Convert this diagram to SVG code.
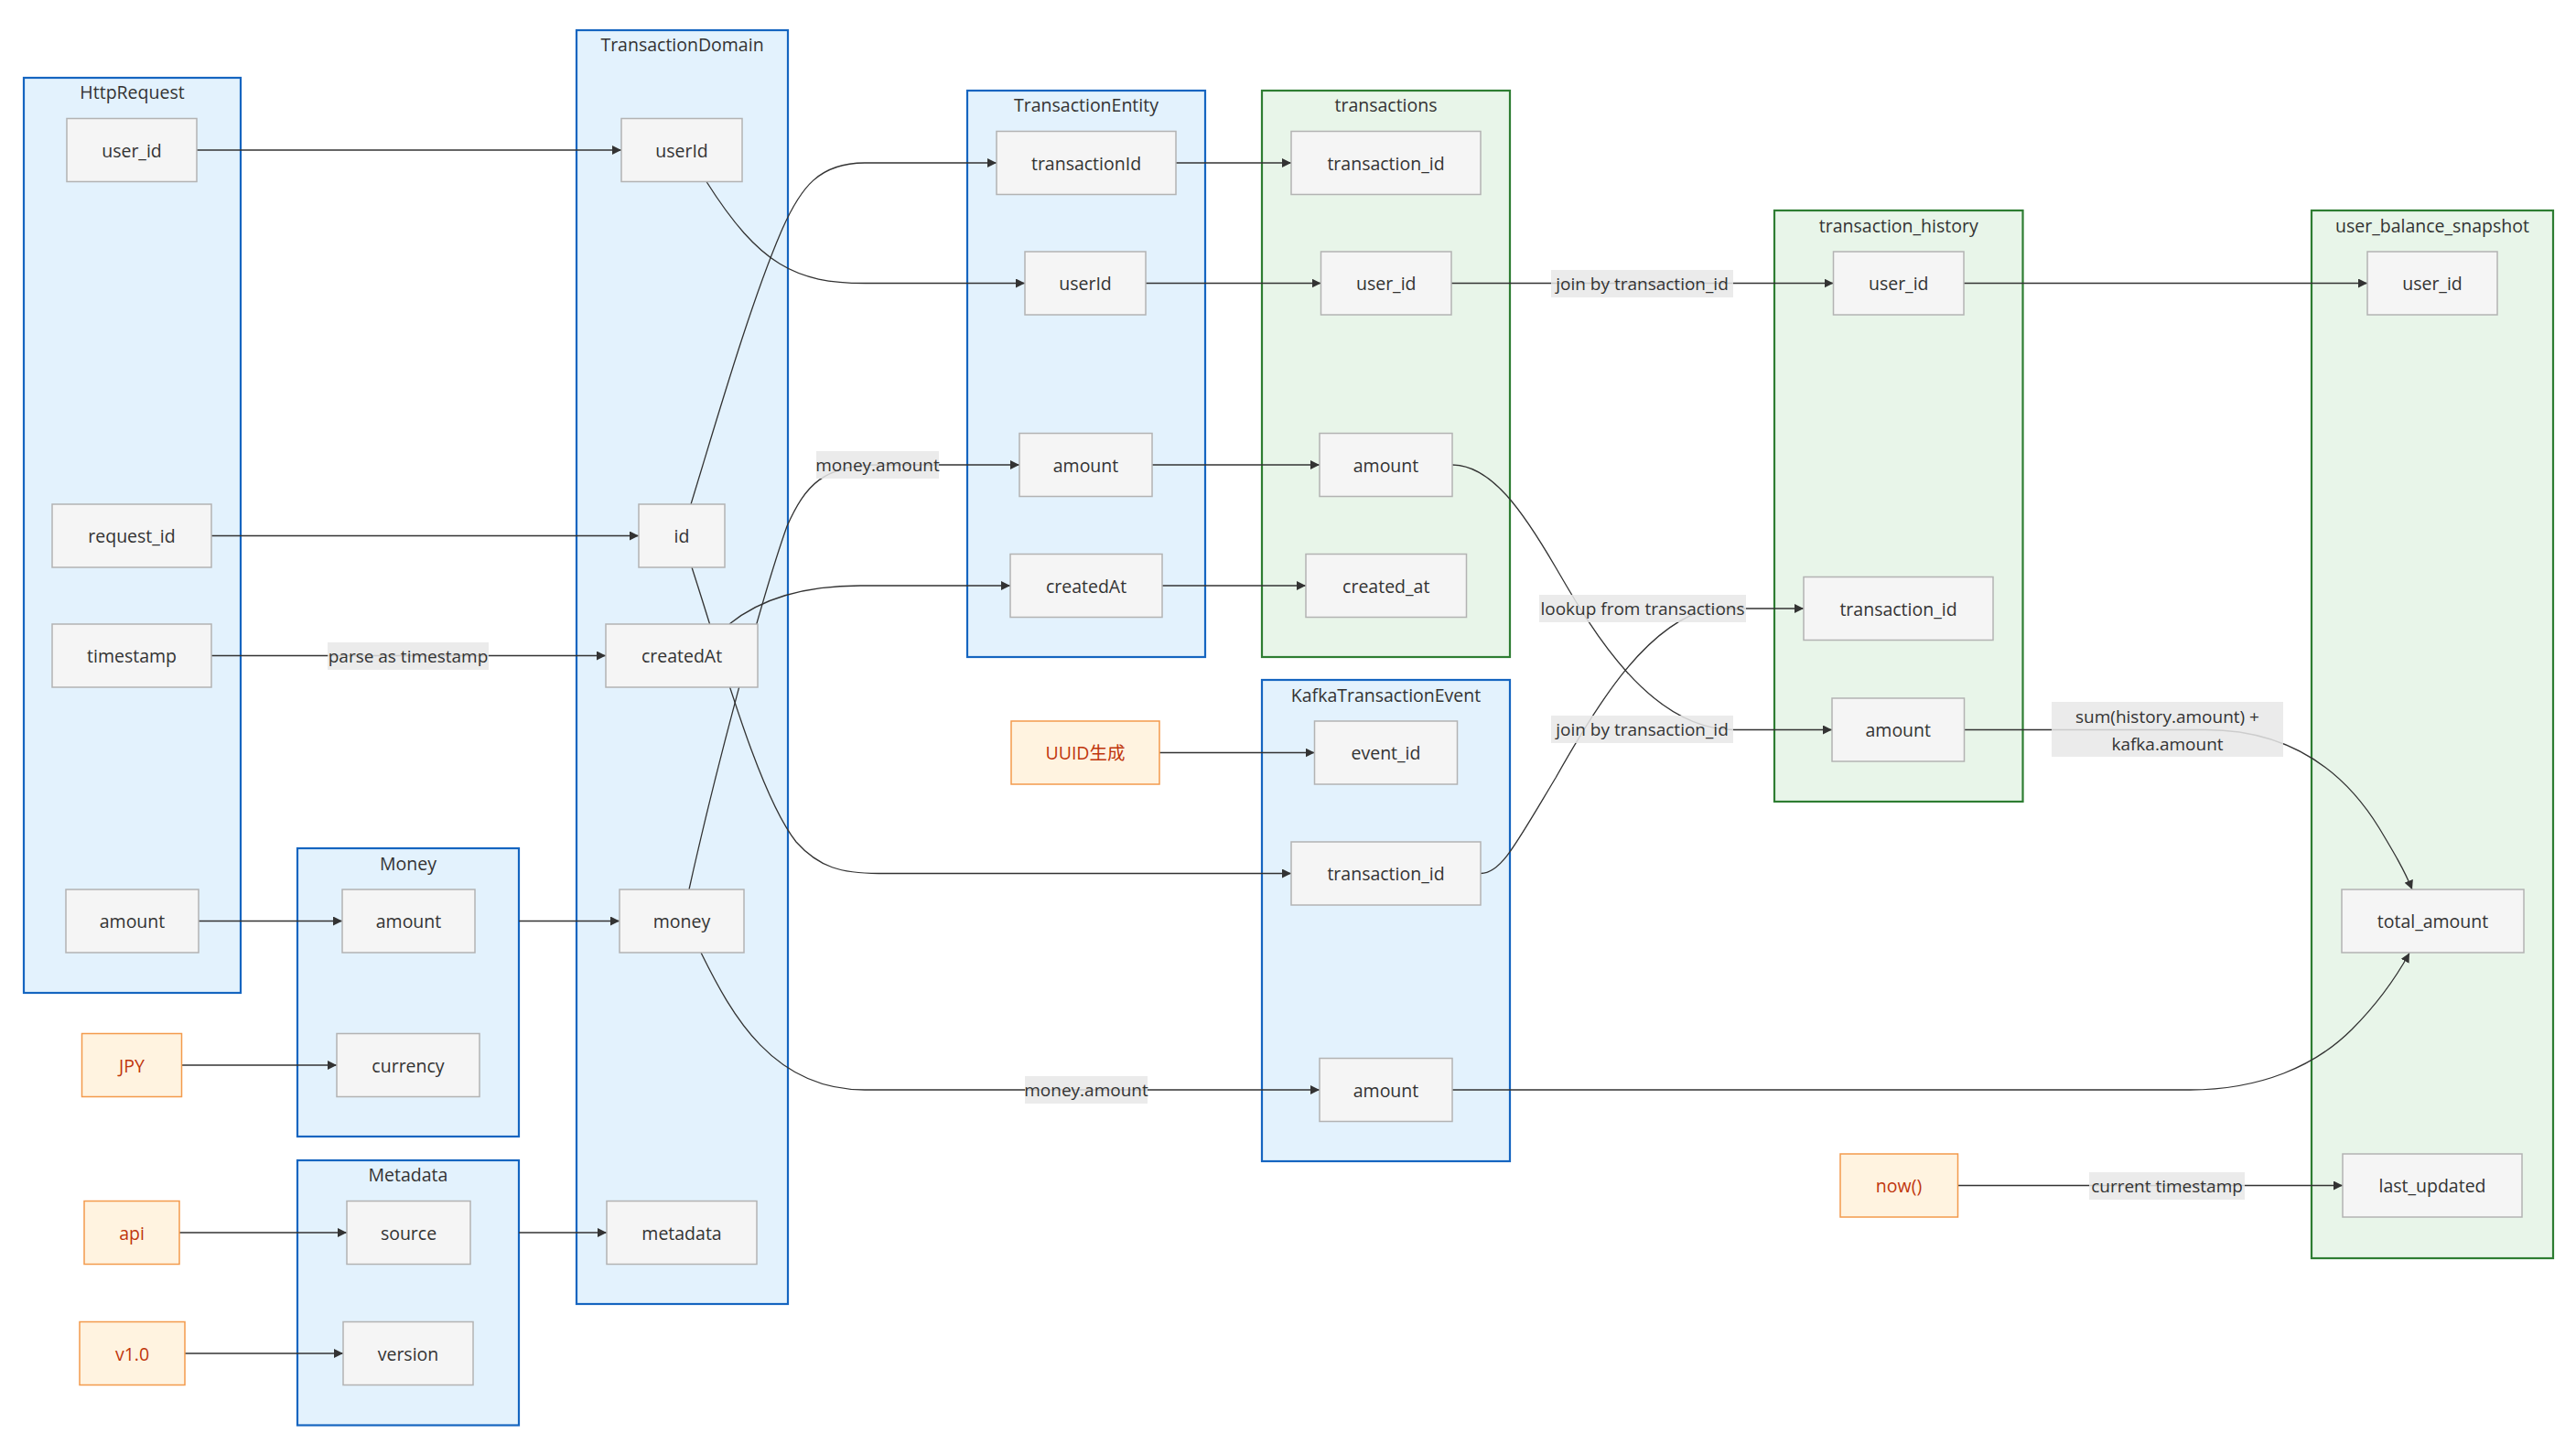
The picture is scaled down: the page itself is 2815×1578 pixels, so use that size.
<svg xmlns="http://www.w3.org/2000/svg" width="2815" height="1578" viewBox="0 0 2815 1578">
<style>
.cb{fill:#e3f2fd;stroke:#1565c0;stroke-width:2.2}
.cg{fill:#e8f5e9;stroke:#2e7d32;stroke-width:2.2}
.n{fill:#f5f5f5;stroke:#b3b3b3;stroke-width:1.5}
.o{fill:#fff3e0;stroke:#f39a4c;stroke-width:1.5}
.t{font-family:"Open Sans","Noto Sans CJK JP",sans-serif;font-size:19.5px;fill:#333;text-anchor:middle;dominant-baseline:central}
.el .t{font-size:19px}
.to{fill:#bf360c}
.e{fill:none;stroke:#333;stroke-width:1.3;marker-end:url(#arr)}
.lb{fill:#e8e8e8;fill-opacity:0.85}
</style>
<defs>
<marker id="arr" viewBox="0 0 10 10" refX="10" refY="5" markerWidth="10" markerHeight="10" markerUnits="userSpaceOnUse" orient="auto">
<path d="M0,0 L10,5 L0,10 z" fill="#333"/>
</marker>
</defs>
<rect width="2815" height="1578" fill="#fff"/>
<g id="clusters">
<g id="HttpRequest"><rect class="cb" x="26" y="85" width="237" height="1000"/><text class="t" x="144.5" y="100">HttpRequest</text></g>
<g id="TransactionDomain"><rect class="cb" x="630" y="33" width="231" height="1392"/><text class="t" x="745.5" y="48">TransactionDomain</text></g>
<g id="Money"><rect class="cb" x="325" y="927" width="242" height="315"/><text class="t" x="446" y="943">Money</text></g>
<g id="Metadata"><rect class="cb" x="325" y="1268" width="242" height="289.5"/><text class="t" x="446" y="1283">Metadata</text></g>
<g id="TransactionEntity"><rect class="cb" x="1057" y="99" width="260" height="619"/><text class="t" x="1187" y="114">TransactionEntity</text></g>
<g id="transactions"><rect class="cg" x="1379" y="99" width="271" height="619"/><text class="t" x="1514.5" y="114">transactions</text></g>
<g id="KafkaTransactionEvent"><rect class="cb" x="1379" y="743" width="271" height="526"/><text class="t" x="1514.5" y="759">KafkaTransactionEvent</text></g>
<g id="transaction_history"><rect class="cg" x="1939" y="230" width="271.5" height="646"/><text class="t" x="2074.75" y="246">transaction_history</text></g>
<g id="user_balance_snapshot"><rect class="cg" x="2526" y="230" width="264" height="1145"/><text class="t" x="2658" y="246">user_balance_snapshot</text></g>
</g>
<g id="connectors">
<path class="e" d="M215,164 L679,164"/>
<path class="e" d="M231,585.5 L698,585.5"/>
<path class="e" d="M231,716.5 L662,716.5"/>
<path class="e" d="M217,1006.5 L374,1006.5"/>
<path class="e" d="M198.5,1164 L368,1164"/>
<path class="e" d="M196,1347 L379,1347"/>
<path class="e" d="M202,1479 L375,1479"/>
<path class="e" d="M567,1006.5 L677,1006.5"/>
<path class="e" d="M567,1347 L663,1347"/>
<path class="e" d="M772,198.5 C830,290 870,309.5 945,309.5 L1120,309.5"/>
<path class="e" d="M755,551 C780,470 820,330 855,250 C875,205 895,178 945,178 L1089,178"/>
<path class="e" d="M756,620 C790,725 830,870 870,920 C895,948 920,954.5 960,954.5 L1411,954.5"/>
<path class="e" d="M797,682 C818,665 858,640 940,640 L1104,640"/>
<path class="e" d="M753,972 C780,850 830,660 860,575 C880,530 900,508 960,508 L1114,508"/>
<path class="e" d="M766,1041 C800,1110 845,1191 945,1191 L1442,1191"/>
<path class="e" d="M1285,178 L1411,178"/>
<path class="e" d="M1252,309.5 L1443.5,309.5"/>
<path class="e" d="M1259,508 L1442,508"/>
<path class="e" d="M1270,640 L1427,640"/>
<path class="e" d="M1267,822.5 L1436.5,822.5"/>
<path class="e" d="M1586,309.5 L2003.5,309.5"/>
<path class="e" d="M1587,508 C1630,508 1665,560 1700,620 C1735,680 1800,797.5 1895,797.5 L2002,797.5"/>
<path class="e" d="M1618,954.5 C1640,954.5 1655,925 1700,850 C1745,770 1800,680 1870,665 L1971,665"/>
<path class="e" d="M2146,309.5 L2587,309.5"/>
<path class="e" d="M2146.5,797.5 L2410,797.5 C2500,797.5 2560,840 2600,905 C2615,930 2627,950 2636,972"/>
<path class="e" d="M1587,1191 L2393,1191 C2470,1191 2530,1165 2570,1125 C2600,1095 2620,1065 2633,1041.5"/>
<path class="e" d="M2139.5,1295.5 L2560,1295.5"/>
</g>
<g id="edge-labels" class="el">
<g><rect class="lb" x="358" y="702" width="176" height="30"/><text class="t" x="446" y="717">parse as timestamp</text></g>
<g><rect class="lb" x="892" y="493" width="134" height="30"/><text class="t" x="959" y="508">money.amount</text></g>
<g><rect class="lb" x="1120" y="1176" width="134" height="30"/><text class="t" x="1187" y="1191">money.amount</text></g>
<g><rect class="lb" x="1695" y="295" width="199" height="30"/><text class="t" x="1794.5" y="310">join by transaction_id</text></g>
<g><rect class="lb" x="1682" y="650" width="226" height="30"/><text class="t" x="1795" y="665">lookup from transactions</text></g>
<g><rect class="lb" x="1695" y="782" width="199" height="30"/><text class="t" x="1794.5" y="797">join by transaction_id</text></g>
<g><rect class="lb" x="2242" y="767" width="253" height="60"/><text class="t" x="2368.5" y="782.5">sum(history.amount) +</text><text class="t" x="2368.5" y="812.5">kafka.amount</text></g>
<g><rect class="lb" x="2283" y="1281" width="170" height="30"/><text class="t" x="2368" y="1296">current timestamp</text></g>
</g>
<g id="nodes">
<g id="hr_user_id"><rect class="n" x="73" y="129.5" width="142" height="69"/><text class="t" x="144" y="164">user_id</text></g>
<g id="hr_request_id"><rect class="n" x="57" y="551" width="174" height="69"/><text class="t" x="144" y="585.5">request_id</text></g>
<g id="hr_timestamp"><rect class="n" x="57" y="682" width="174" height="69"/><text class="t" x="144" y="716.5">timestamp</text></g>
<g id="hr_amount"><rect class="n" x="72" y="972" width="145" height="69"/><text class="t" x="144.5" y="1006.5">amount</text></g>
<g id="td_userId"><rect class="n" x="679" y="129.5" width="132" height="69"/><text class="t" x="745" y="164">userId</text></g>
<g id="td_id"><rect class="n" x="698" y="551" width="94" height="69"/><text class="t" x="745" y="585.5">id</text></g>
<g id="td_createdAt"><rect class="n" x="662" y="682" width="166" height="69"/><text class="t" x="745" y="716.5">createdAt</text></g>
<g id="td_money"><rect class="n" x="677" y="972" width="136" height="69"/><text class="t" x="745" y="1006.5">money</text></g>
<g id="td_metadata"><rect class="n" x="663" y="1312.5" width="164" height="69"/><text class="t" x="745" y="1347">metadata</text></g>
<g id="m_amount"><rect class="n" x="374" y="972" width="145" height="69"/><text class="t" x="446.5" y="1006.5">amount</text></g>
<g id="m_currency"><rect class="n" x="368" y="1129.5" width="156" height="69"/><text class="t" x="446" y="1164">currency</text></g>
<g id="c_JPY"><rect class="o" x="89.5" y="1129.5" width="109" height="69"/><text class="t to" x="144" y="1164">JPY</text></g>
<g id="md_source"><rect class="n" x="379" y="1312.5" width="135" height="69"/><text class="t" x="446.5" y="1347">source</text></g>
<g id="md_version"><rect class="n" x="375" y="1444.5" width="142" height="69"/><text class="t" x="446" y="1479">version</text></g>
<g id="c_api"><rect class="o" x="92" y="1312.5" width="104" height="69"/><text class="t to" x="144" y="1347">api</text></g>
<g id="c_v10"><rect class="o" x="87" y="1444.5" width="115" height="69"/><text class="t to" x="144.5" y="1479">v1.0</text></g>
<g id="te_transactionId"><rect class="n" x="1089" y="143.5" width="196" height="69"/><text class="t" x="1187" y="178">transactionId</text></g>
<g id="te_userId"><rect class="n" x="1120" y="275" width="132" height="69"/><text class="t" x="1186" y="309.5">userId</text></g>
<g id="te_amount"><rect class="n" x="1114" y="473.5" width="145" height="69"/><text class="t" x="1186.5" y="508">amount</text></g>
<g id="te_createdAt"><rect class="n" x="1104" y="605.5" width="166" height="69"/><text class="t" x="1187" y="640">createdAt</text></g>
<g id="tx_transaction_id"><rect class="n" x="1411" y="143.5" width="207" height="69"/><text class="t" x="1514.5" y="178">transaction_id</text></g>
<g id="tx_user_id"><rect class="n" x="1443.5" y="275" width="142.5" height="69"/><text class="t" x="1514.75" y="309.5">user_id</text></g>
<g id="tx_amount"><rect class="n" x="1442" y="473.5" width="145" height="69"/><text class="t" x="1514.5" y="508">amount</text></g>
<g id="tx_created_at"><rect class="n" x="1427" y="605.5" width="175.5" height="69"/><text class="t" x="1514.75" y="640">created_at</text></g>
<g id="k_event_id"><rect class="n" x="1436.5" y="788" width="156" height="69"/><text class="t" x="1514.5" y="822.5">event_id</text></g>
<g id="k_transaction_id"><rect class="n" x="1411" y="920" width="207" height="69"/><text class="t" x="1514.5" y="954.5">transaction_id</text></g>
<g id="k_amount"><rect class="n" x="1442" y="1156.5" width="145" height="69"/><text class="t" x="1514.5" y="1191">amount</text></g>
<g id="c_uuid"><rect class="o" x="1105" y="788" width="162" height="69"/><text class="t to" x="1186" y="822.5">UUID生成</text></g>
<g id="th_user_id"><rect class="n" x="2003.5" y="275" width="142.5" height="69"/><text class="t" x="2074.75" y="309.5">user_id</text></g>
<g id="th_transaction_id"><rect class="n" x="1971" y="630.5" width="207" height="69"/><text class="t" x="2074.5" y="665">transaction_id</text></g>
<g id="th_amount"><rect class="n" x="2002" y="763" width="144.5" height="69"/><text class="t" x="2074.25" y="797.5">amount</text></g>
<g id="u_user_id"><rect class="n" x="2587" y="275" width="142" height="69"/><text class="t" x="2658" y="309.5">user_id</text></g>
<g id="u_total_amount"><rect class="n" x="2559" y="972" width="199" height="69"/><text class="t" x="2658.5" y="1006.5">total_amount</text></g>
<g id="u_last_updated"><rect class="n" x="2560" y="1261" width="196" height="69"/><text class="t" x="2658" y="1295.5">last_updated</text></g>
<g id="c_now"><rect class="o" x="2011" y="1261" width="128.5" height="69"/><text class="t to" x="2075" y="1295.5">now()</text></g>
</g>
</svg>
